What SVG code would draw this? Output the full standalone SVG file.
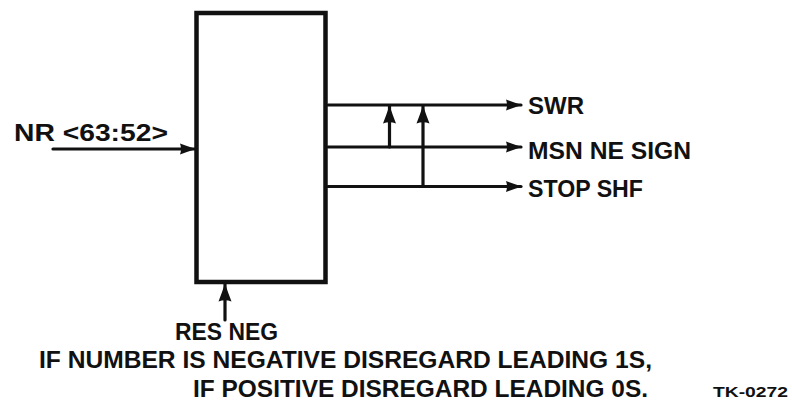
<svg xmlns="http://www.w3.org/2000/svg" width="792" height="408" viewBox="0 0 792 408">
<style>
.ln{stroke:#111;stroke-width:3.2;fill:none;stroke-linecap:round}
.box{stroke:#111;stroke-width:4.5;fill:#fff}
.t{font-family:"Liberation Sans",Arial,Helvetica,sans-serif;font-weight:bold;fill:#111}
</style>
<defs>
<marker id="ah" viewBox="0 0 16 12" refX="15" refY="6" markerWidth="16" markerHeight="12" markerUnits="userSpaceOnUse" orient="auto">
<path d="M0,0.5 Q8,3.5 16,6 Q8,8.5 0,11.5 Q2,6 0,0.5 z" fill="#111"/>
</marker>
<marker id="ahb" viewBox="0 0 18 14" refX="17" refY="7" markerWidth="18" markerHeight="14" markerUnits="userSpaceOnUse" orient="auto">
<path d="M0,0.5 Q9,4 18,7 Q9,10 0,13.5 Q2.5,7 0,0.5 z" fill="#111"/>
</marker>
</defs>
<rect width="792" height="408" fill="#fff"/>
<g id="connectors">
<line class="ln" x1="53" y1="149" x2="195" y2="149" marker-end="url(#ah)"/>
<line class="ln" x1="328" y1="105" x2="521" y2="105" marker-end="url(#ah)"/>
<line class="ln" x1="328" y1="147" x2="521" y2="147" marker-end="url(#ah)"/>
<line class="ln" x1="328" y1="186.5" x2="521" y2="186.5" marker-end="url(#ah)"/>
<line class="ln" x1="389.5" y1="147" x2="389.5" y2="106.5" marker-end="url(#ahb)"/>
<line class="ln" x1="423" y1="186.5" x2="423" y2="106.5" marker-end="url(#ahb)"/>
<line class="ln" x1="225" y1="320" x2="225" y2="284.5" marker-end="url(#ahb)"/>
</g>
<g id="block">
<rect class="box" x="196.5" y="13" width="129" height="269"/>
</g>
<g id="input-nr">
<text class="t" x="14" y="141" font-size="23" textLength="154" lengthAdjust="spacingAndGlyphs">NR &lt;63:52&gt;</text>
</g>
<g id="out-swr">
<text class="t" x="528" y="114" font-size="24" textLength="56" lengthAdjust="spacingAndGlyphs">SWR</text>
</g>
<g id="out-msn">
<text class="t" x="528" y="159" font-size="24" textLength="163" lengthAdjust="spacingAndGlyphs">MSN NE SIGN</text>
</g>
<g id="out-stop">
<text class="t" x="528" y="197" font-size="24" textLength="115" lengthAdjust="spacingAndGlyphs">STOP SHF</text>
</g>
<g id="in-resneg">
<text class="t" x="175" y="340" font-size="24" textLength="103" lengthAdjust="spacingAndGlyphs">RES NEG</text>
</g>
<g id="note">
<text class="t" x="39" y="368" font-size="23" textLength="613" lengthAdjust="spacingAndGlyphs">IF NUMBER IS NEGATIVE DISREGARD LEADING 1S,</text>
<text class="t" x="193" y="397" font-size="23" textLength="455" lengthAdjust="spacingAndGlyphs">IF POSITIVE DISREGARD LEADING 0S.</text>
</g>
<g id="tag">
<text class="t" x="713" y="397" font-size="15" textLength="75" lengthAdjust="spacingAndGlyphs">TK-0272</text>
</g>
</svg>
